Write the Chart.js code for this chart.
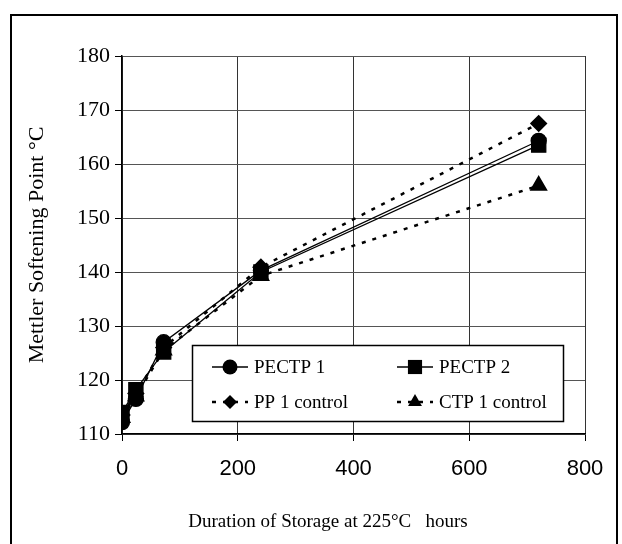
<!DOCTYPE html>
<html>
<head>
<meta charset="utf-8">
<script src="https://cdn.jsdelivr.net/npm/chart.js@4"></script>
<style>
  body { margin: 0; background: #fff; }
  #wrap { width: 622px; height: 544px; }
</style>
</head>
<body>
<div id="wrap"><canvas id="softChart" width="622" height="544"></canvas></div>
<script>
const hours = [0, 24, 72, 240, 720];
const pectp1 = [112.2, 116.5, 127.0, 140.3, 164.3];
const pectp2 = [114.0, 118.2, 125.2, 140.0, 163.5];
const pp1Control = [113.5, 117.5, 126.0, 140.9, 167.5];
const ctp1Control = [113.0, 117.0, 125.5, 139.3, 156.0];
const xTicks = [0, 200, 400, 600, 800];
const yTicks = [110, 120, 130, 140, 150, 160, 170, 180];

const xTitle = 'Duration of Storage at 225°C   hours';
const yTitle = 'Mettler Softening Point °C';

function pts(vals) {
    return hours.map((h, i) => ({ x: h, y: vals[i] }));
}

// frame round the whole chart + x title
const framePlugin = {
    id: 'frame',
    beforeDraw(chart) {
        const ctx = chart.ctx;
        ctx.save();
        ctx.strokeStyle = '#000';
        ctx.lineWidth = 2;
        ctx.strokeRect(11, 15, 606, 560);
        ctx.restore();
    },
    afterDraw(chart) {
        const ctx = chart.ctx;
        ctx.save();
        ctx.fillStyle = '#000';
        ctx.font = '19px "Liberation Serif"';
        ctx.textAlign = 'center';
        ctx.textBaseline = 'middle';
        ctx.fillText(xTitle, 328, 522);
        ctx.restore();
    }
};

// legend box drawn inside the plot
const boxLegend = {
    id: 'boxLegend',
    afterDraw(chart) {
        const ctx = chart.ctx;
        const left = 192, top = 345, w = 371, h = 76;
        ctx.save();
        ctx.fillStyle = '#fff';
        ctx.fillRect(left, top, w, h);
        ctx.strokeStyle = '#000';
        ctx.lineWidth = 1.5;
        ctx.strokeRect(left + 0.5, top + 0.5, w, h);
        const cols = [212, 397];
        const rows = [367, 402];
        chart.data.datasets.forEach((ds, i) => {
            const x = cols[i % 2];
            const y = rows[Math.floor(i / 2)];
            ctx.strokeStyle = '#000';
            ctx.fillStyle = '#000';
            ctx.lineWidth = ds.borderWidth;
            ctx.setLineDash(ds.borderDash || []);
            ctx.beginPath();
            ctx.moveTo(x, y);
            ctx.lineTo(x + 36, y);
            ctx.stroke();
            ctx.setLineDash([]);
            Chart.helpers.drawPoint(ctx, {
                pointStyle: ds.pointStyle,
                radius: ds.pointRadius,
                borderWidth: 0
            }, x + 18, y);
            ctx.font = '19px "Liberation Serif"';
            ctx.textAlign = 'left';
            ctx.textBaseline = 'middle';
            ctx.fillText(ds.label, x + 42, y + 1);
        });
        ctx.restore();
    }
};

new Chart(document.getElementById('softChart'), {
    type: 'scatter',
    data: {
        datasets: [
            {
                label: 'PECTP 1',
                data: pts(pectp1),
                showLine: true,
                borderColor: '#000',
                backgroundColor: '#000',
                borderWidth: 1.3,
                pointStyle: 'circle',
                pointRadius: 7.5,
                order: 2
            },
            {
                label: 'PECTP 2',
                data: pts(pectp2),
                showLine: true,
                borderColor: '#000',
                backgroundColor: '#000',
                borderWidth: 1.3,
                pointStyle: 'rect',
                pointRadius: 10,
                order: 1
            },
            {
                label: 'PP 1 control',
                data: pts(pp1Control),
                showLine: true,
                borderColor: '#000',
                backgroundColor: '#000',
                borderWidth: 2.5,
                borderDash: [4, 7],
                pointStyle: 'rectRot',
                pointRadius: 7,
                order: 3
            },
            {
                label: 'CTP 1 control',
                data: pts(ctp1Control),
                showLine: true,
                borderColor: '#000',
                backgroundColor: '#000',
                borderWidth: 2.5,
                borderDash: [4, 7],
                pointStyle: 'triangle',
                pointRadius: 8,
                order: 4
            }
        ]
    },
    options: {
        responsive: false,
        animation: false,
        layout: { padding: { left: 0, right: 37, top: 56, bottom: 0 } },
        plugins: {
            legend: { display: false },
            tooltip: { enabled: false }
        },
        scales: {
            x: {
                type: 'linear',
                min: 0,
                max: 800,
                afterBuildTicks: (axis) => { axis.ticks = xTicks.map(v => ({ value: v })); },
                afterFit: (axis) => { axis.height = 110; },
                border: { color: '#000', width: 1.5 },
                grid: { color: '#333', lineWidth: 1, tickLength: 7, tickColor: '#000' },
                ticks: {
                    color: '#000',
                    padding: 15,
                    maxRotation: 0,
                    font: { family: '"Liberation Sans"', size: 22 }
                }
            },
            y: {
                min: 110,
                max: 180,
                afterBuildTicks: (axis) => { axis.ticks = yTicks.map(v => ({ value: v })); },
                afterFit: (axis) => { axis.width = 122; },
                border: { color: '#000', width: 1.5 },
                grid: { color: '#555', lineWidth: 1, tickLength: 7, tickColor: '#000' },
                title: {
                    display: true,
                    text: yTitle,
                    color: '#000',
                    padding: { top: 24, bottom: 0 },
                    font: { family: '"Liberation Serif"', size: 22 }
                },
                ticks: {
                    color: '#000',
                    padding: 5,
                    font: { family: '"Liberation Serif"', size: 22 }
                }
            }
        }
    },
    plugins: [framePlugin, boxLegend]
});
</script>
</body>
</html>
